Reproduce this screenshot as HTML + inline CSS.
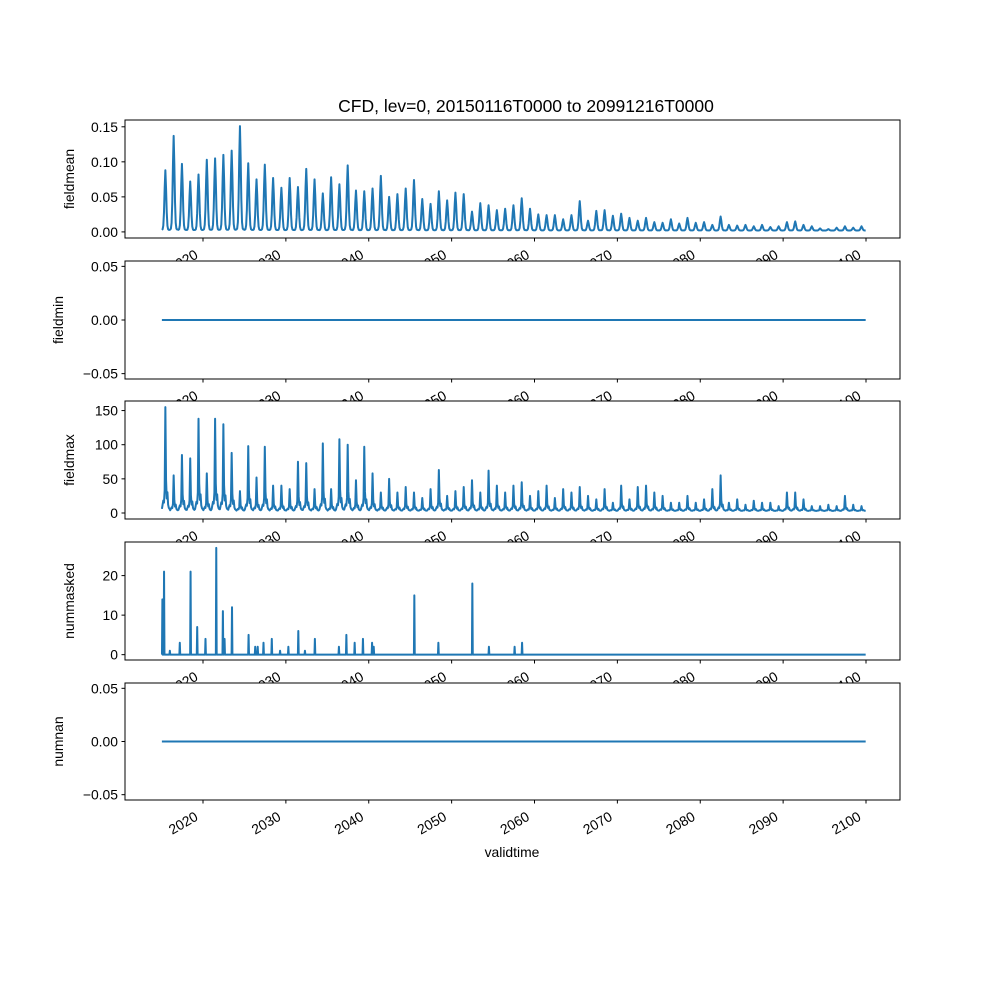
<!DOCTYPE html>
<html><head><meta charset="utf-8"><style>
body{margin:0;background:#fff;}
svg{display:block;font-family:"Liberation Sans",sans-serif;}
</style></head><body>
<svg id="fig" width="1000" height="1000" xmlns="http://www.w3.org/2000/svg">
<rect width="1000" height="1000" fill="#fff"/>
<text x="526" y="112" font-size="17.5" text-anchor="middle">CFD, lev=0, 20150116T0000 to 20991216T0000</text>
<text x="512" y="857" font-size="13.9" text-anchor="middle">validtime</text>
</svg>
<script>
const years = [];
for (let y = 2015; y <= 2099; y++) years.push(y);
const meanPeaks = [0.088,0.137,0.097,0.072,0.082,0.103,0.105,0.110,0.116,0.151,0.098,0.075,0.096,0.077,0.063,0.077,0.064,0.090,0.075,0.055,0.078,0.068,0.095,0.059,0.058,0.062,0.080,0.050,0.054,0.062,0.074,0.047,0.040,0.058,0.045,0.056,0.054,0.029,0.041,0.038,0.031,0.033,0.038,0.048,0.033,0.025,0.024,0.024,0.018,0.024,0.044,0.016,0.030,0.031,0.023,0.026,0.020,0.016,0.020,0.014,0.013,0.018,0.012,0.020,0.013,0.014,0.010,0.022,0.010,0.009,0.010,0.008,0.010,0.007,0.008,0.014,0.015,0.010,0.008,0.005,0.004,0.006,0.008,0.006,0.008];
const maxPeaks = [155,55,85,80,138,58,138,130,88,32,98,52,97,40,40,35,75,73,35,102,35,108,100,48,97,58,30,50,30,38,30,22,35,63,25,32,38,48,30,62,40,30,40,45,25,32,40,22,35,30,38,25,20,35,15,40,20,38,40,30,25,15,15,25,15,20,35,55,15,20,12,18,15,15,10,30,30,20,10,10,12,10,25,12,10];
const maskedTimes = [2015.1,2015.3,2016.0,2017.2,2018.5,2019.3,2020.3,2021.6,2022.4,2022.6,2023.5,2025.5,2026.3,2026.6,2027.3,2028.3,2029.3,2030.3,2031.5,2032.3,2033.5,2036.4,2037.3,2038.3,2039.3,2040.4,2040.6,2045.5,2048.4,2052.5,2054.5,2057.6,2058.5];
const maskedValues = [14,21,1,3,21,7,4,27,11,4,12,5,2,2,3,4,1,2,6,1,4,2,5,3,4,3,2,15,3,18,2,2,3];
const xTickLabels = ["2020","2030","2040","2050","2060","2070","2080","2090","2100"];
const meanTicks = ["0.00","0.05","0.10","0.15"];
const zeroTicks = ["−0.05","0.00","0.05"];
const maxTicks = ["0","50","100","150"];
const maskTicks = ["0","10","20"];
const seasonShape = [0.01,0.02,0.08,0.3,0.7,1,0.7,0.3,0.08,0.02,0.01,0.01];
const maxShape = [0.02,0.06,0.1,0.08,0.2,1,0.3,0.12,0.18,0.06,0.03,0.02];

const NS = "http://www.w3.org/2000/svg";
const svg = document.getElementById('fig');
const X0 = 125, X1 = 900;
const xs = t => 203 + (t - 2020) * 8.2875;
function el(tag, attrs, parent) { const e = document.createElementNS(NS, tag); for (const k in attrs) e.setAttribute(k, attrs[k]); (parent || svg).appendChild(e); return e; }

function panel(name, top, bot, ymin, ymax, ticks, ylabel, points) {
  const g = el('g', {});
  
  
  el('rect', {x: X0, y: top, width: X1 - X0, height: bot - top, fill: '#fff'}, g);
  const ys = v => bot - (v - ymin) / (ymax - ymin) * (bot - top);
  const d = points.map((p, i) => (i ? 'L' : 'M') + xs(p[0]).toFixed(2) + ',' + ys(p[1]).toFixed(2)).join('');
  const line = el('path', {d: d, fill: 'none', stroke: '#1f77b4', 'stroke-width': 2, 'stroke-linejoin': 'round'}, g);
  
  
  el('rect', {x: X0, y: top, width: X1 - X0, height: bot - top, fill: 'none', stroke: '#000', 'stroke-width': 1}, g);
  ticks.forEach(t => {
    const v = parseFloat(t.replace('−', '-'));
    const y = ys(v);
    el('line', {x1: X0 - 3.5, x2: X0, y1: y, y2: y, stroke: '#000'}, g);
    const tx = el('text', {x: X0 - 7, y: y + 5, 'font-size': 13.9, 'text-anchor': 'end'}, g);
    tx.textContent = t;
    
    
  });
  xTickLabels.forEach(t => {
    const x = xs(parseFloat(t));
    el('line', {x1: x, x2: x, y1: bot, y2: bot + 3.5, stroke: '#000'}, g);
    const tx = el('text', {x: 0, y: 12, 'font-size': 13.9, 'text-anchor': 'end', transform: 'translate(' + (x - 10) + ',' + (bot + 9) + ') rotate(-30)'}, g);
    tx.textContent = t;
    
    
  });
  const yl = el('text', {x: 0, y: 0, 'font-size': 13.9, 'text-anchor': 'middle', transform: 'translate(' + (ylabel === 'fieldmin' || ylabel === 'numnan' ? 63 : 74) + ',' + ((top + bot) / 2) + ') rotate(-90)'}, g);
  yl.textContent = ylabel;
  
  
}

function seasonal(peaks, base, shape) {
  const pts = [];
  years.forEach((y, i) => shape.forEach((s, m) => {
    pts.push([y + (m + 0.5) / 12, base + (peaks[i] - base) * s]);
  }));
  return pts;
}
function flat() { return [[2015.04, 0], [2099.96, 0]]; }
function spikes() {
  const pts = [[2015.04, 0]];
  maskedTimes.forEach((t, i) => { pts.push([t - 0.05, 0], [t, maskedValues[i]], [t + 0.05, 0]); });
  pts.push([2099.96, 0]);
  return pts;
}

panel('fieldmean', 120, 238, -0.0087, 0.1597, meanTicks, 'fieldmean', seasonal(meanPeaks, 0.002, seasonShape));
panel('fieldmin', 261, 379, -0.055, 0.055, zeroTicks, 'fieldmin', flat());
panel('fieldmax', 401, 519, -8.8, 164, maxTicks, 'fieldmax', seasonal(maxPeaks, 3, maxShape));
panel('nummasked', 542, 660, -1.35, 28.5, maskTicks, 'nummasked', spikes());
panel('numnan', 683, 800, -0.055, 0.055, zeroTicks, 'numnan', flat());
</script>
</body></html>
